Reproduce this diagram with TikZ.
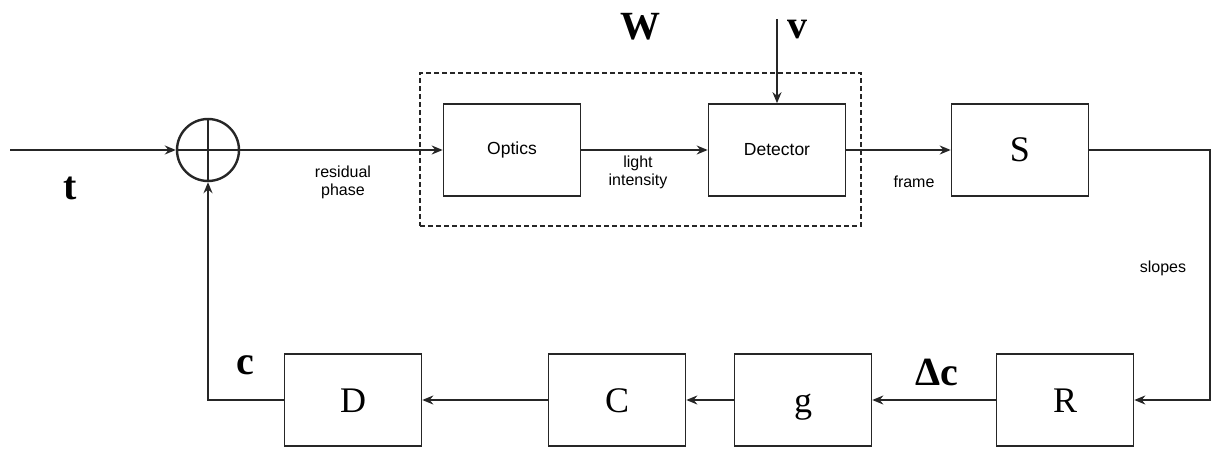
\documentclass[tikz,border=0pt]{standalone}
\usepackage{fontspec}
\setmainfont{Liberation Serif}
\setsansfont{Liberation Sans}
\usetikzlibrary{arrows.meta}

\begin{document}
\begin{tikzpicture}[
      x=1pt, y=-1pt,
      line width=1.6pt, draw=black!85,
      >={Stealth[length=11pt,width=9pt]},
      block/.style={draw, rectangle, minimum width=137pt, minimum height=92pt, inner sep=0pt},
      bigletter/.style={font=\fontsize{36}{40}\selectfont, text height=24pt, text depth=0pt},
      boxtext/.style={font=\sffamily\fontsize{17.5}{20}\selectfont},
      smalltext/.style={font=\sffamily\fontsize{16}{18}\selectfont, align=center, inner sep=0pt},
      signal/.style={font=\bfseries\fontsize{40}{44}\selectfont, inner sep=0pt},
      sumnode/.style={draw, circle, minimum size=62pt, inner sep=0pt, line width=2.4pt}
      ]
  \useasboundingbox (0,0) rectangle (1216,449);

  % forward path
  \node[sumnode] (sum) at (208,150) {};
  \draw[line width=1.8pt] (sum.north) -- (sum.south) (sum.west) -- (sum.east);
  \node[draw, dash pattern=on 5pt off 3pt, line width=1.3pt, minimum width=441pt, minimum height=153pt] (wfs) at (640.5,149.5) {};
  \node[block, boxtext] (optics) at (512,150) {Optics};
  \node[block, boxtext] (detector) at (777,150) {Detector};
  \node[block, bigletter] (S) at (1020,150) {S};

  % feedback path
  \node[block, bigletter] (R) at (1065,400) {R};
  \node[block, bigletter] (g) at (803,400) {g};
  \node[block, bigletter] (C) at (617,400) {C};
  \node[block, bigletter] (D) at (353,400) {D};

  \coordinate (tin) at (10,150);
  \coordinate (vin) at (777,19);
  \coordinate (turn) at (1210,150);

  \draw[->] (tin) -- (sum.west);
  \draw[->] (sum.east) -- (optics.west);
  \draw[->] (optics.east) -- (detector.west);
  \draw[->] (vin) -- (detector.north);
  \draw[->] (detector.east) -- (S.west);
  \draw[->] (S.east) -- (turn) |- (R.east);
  \draw[->] (R.west) -- (g.east);
  \draw[->] (g.west) -- (C.east);
  \draw[->] (C.west) -- (D.east);
  \draw[->] (D.west) -| (sum.south);

  % labels
  \node[signal] (tlabel) at (70,188) {t};
  \node[signal] (wlabel) at (640,27) {W};
  \node[signal] (vlabel) at (797,30) {v};
  \node[signal] (clabel) at (245,365) {c};
  \node[signal] (dclabel) at (937,372) {Δc};
  \node[smalltext] (residual) at (343,182) {residual\\phase};
  \node[smalltext] (light) at (638,172) {light\\intensity};
  \node[smalltext] (frame) at (914,182) {frame};
  \node[smalltext] (slopes) at (1163,268) {slopes};
\end{tikzpicture}
\end{document}
